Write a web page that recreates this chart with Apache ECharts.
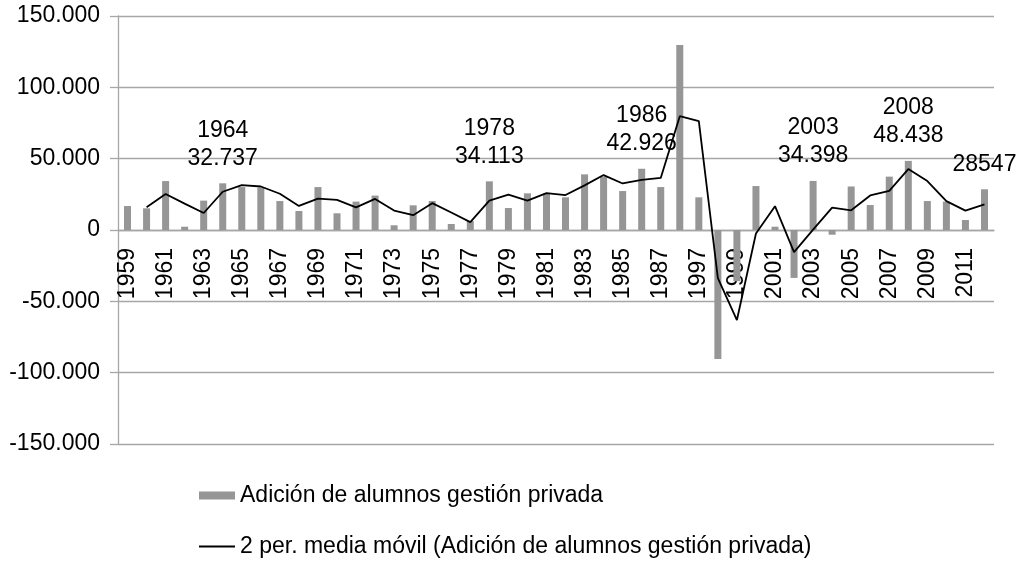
<!DOCTYPE html>
<html>
<head>
<meta charset="utf-8">
<script src="https://cdn.jsdelivr.net/npm/echarts@6/dist/echarts.min.js"></script>
<style>
  html, body { margin: 0; padding: 0; background: #fff; }
  #chart { width: 1026px; height: 562px; }
</style>
</head>
<body>
<div id="chart"></div>
<script>
// ——— datos ———
const anios = [
  '1959','1960','1961','1962','1963','1964','1965','1966','1967','1968',
  '1969','1970','1971','1972','1973','1974','1975','1976','1977','1978',
  '1979','1980','1981','1982','1983','1984','1985','1986','1987','1988',
  '1997','1998','1999','2000','2001','2002','2003','2004','2005','2006',
  '2007','2008','2009','2010','2011','2012'
];
const adicion = [
  16800, 15200, 34300, 2300, 20600, 32737, 30100, 29700, 20300, 13300,
  30100, 11700, 19900, 24100, 3300, 17300, 20300, 4200, 6300, 34113,
  15400, 25700, 25500, 22900, 39000, 37400, 27300, 42926, 30100, 129700,
  22900, -90400, -35900, 30800, 2300, -33600, 34398, -3300, 30500, 17500,
  37400, 48438, 20300, 19900, 7000, 28547
];
const mediaMovil = [
  null, 16000, 25200, 18500, 11900, 26800, 31400, 30500, 25400, 16900,
  22000, 21100, 15900, 21800, 13600, 10400, 18800, 12300, 5500, 20600,
  24800, 20600, 25800, 24500, 31300, 38500, 32600, 35200, 36500, 79800,
  76300, -33700, -63100, -2500, 16700, -15500, 300, 15700, 13800, 24200,
  27400, 42700, 34300, 20200, 13600, 18000
];
const etiquetasAnioValor = ['1964', '1978', '1986', '2003', '2008'];
const etiquetasSoloValor = ['2012'];
const ticksY = [-150000, 50000, 150000]; // min, intervalo, max

const nombreBarras = 'Adición de alumnos gestión privada';
const nombreLinea  = '2 per. media móvil (Adición de alumnos gestión privada)';

// formato con punto de miles
const miles = n => (n < 0 ? '-' : '') + String(Math.abs(n)).replace(/\B(?=(\d{3})+(?!\d))/g, '.');

const fuente = "'Liberation Sans', Arial, sans-serif";
const gris = '#a6a6a6';

// el eje X cruza en 0: la rejilla mide 428 px y el 0 queda a la mitad
const altoGrid = 428;
const desplazX = -altoGrid / 2;

const datosBarras = adicion.map((v, i) => {
  const anio = anios[i];
  if (etiquetasAnioValor.includes(anio)) {
    return { value: v, label: { show: true, formatter: anio + '\n' + miles(v) } };
  }
  if (etiquetasSoloValor.includes(anio)) {
    return { value: v, label: { show: true, formatter: String(v) } };
  }
  return v;
});

const chart = echarts.init(document.getElementById('chart'));
chart.setOption({
  animation: false,
  textStyle: { fontFamily: fuente },
  grid: { left: 118, right: 32, top: 16, height: altoGrid },
  legend: [
    {
      data: [{ name: nombreBarras, icon: 'rect' }],
      left: 199, top: 484, padding: 0,
      itemWidth: 36, itemHeight: 8,
      textStyle: { fontSize: 23, color: '#000', fontFamily: fuente }
    },
    {
      data: [{ name: nombreLinea, icon: 'rect' }],
      left: 199, top: 535, padding: 0,
      itemWidth: 36, itemHeight: 2,
      textStyle: { fontSize: 23, color: '#000', fontFamily: fuente }
    }
  ],
  xAxis: {
    type: 'category',
    data: anios,
    offset: desplazX,
    axisLine: { onZero: false, lineStyle: { color: gris, width: 1.3 } },
    axisTick: { interval: 0, length: 8, lineStyle: { color: gris, width: 1.3 } },
    axisLabel: {
      interval: 1, rotate: 90, margin: 18,
      fontSize: 23, color: '#000', fontFamily: fuente
    },
    splitLine: { show: false }
  },
  yAxis: {
    type: 'value',
    min: ticksY[0], max: ticksY[2], interval: ticksY[1],
    axisLine: { show: true, lineStyle: { color: gris, width: 1.3 } },
    axisTick: { show: true, length: 8, lineStyle: { color: gris, width: 1.3 } },
    axisLabel: {
      margin: 18, fontSize: 23, color: '#000', fontFamily: fuente,
      formatter: v => miles(v)
    },
    splitLine: { lineStyle: { color: gris, width: 1.3 } }
  },
  series: [
    {
      name: nombreBarras,
      type: 'bar',
      data: datosBarras,
      barWidth: 7,
      itemStyle: { color: '#969696' },
      label: {
        position: 'top', distance: 11,
        fontSize: 23, lineHeight: 28, color: '#000', fontFamily: fuente
      }
    },
    {
      name: nombreLinea,
      type: 'line',
      data: mediaMovil,
      symbol: 'none',
      color: '#000',
      lineStyle: { color: '#000', width: 1.8 },
      z: 3
    }
  ]
});
</script>
</body>
</html>
